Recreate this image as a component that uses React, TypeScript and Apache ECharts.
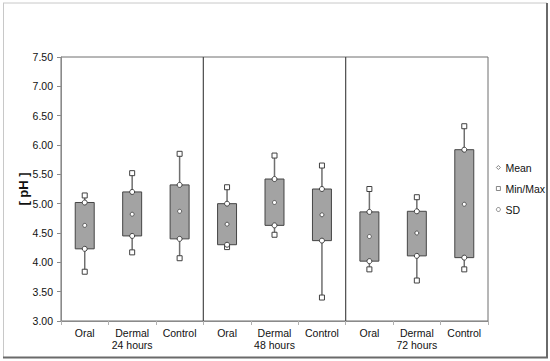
import React, { useEffect, useRef } from "react";
import * as echarts from "echarts";

const categories = [
  "Oral", "Dermal\n24 hours", "Control",
  "Oral", "Dermal\n48 hours", "Control",
  "Oral", "Dermal\n72 hours", "Control",
];
const minValues = [3.84, 4.17, 4.07, 4.26, 4.47, 3.40, 3.88, 3.69, 3.88];
const maxValues = [5.14, 5.52, 5.85, 5.28, 5.82, 5.65, 5.25, 5.11, 6.32];
const sdLow = [4.23, 4.45, 4.40, 4.30, 4.63, 4.37, 4.02, 4.11, 4.08];
const sdHigh = [5.02, 5.20, 5.32, 5.00, 5.42, 5.25, 4.86, 4.87, 5.92];
const meanValues = [4.63, 4.82, 4.87, 4.65, 5.02, 4.81, 4.44, 4.50, 4.99];
const separatorAfter = [2, 5];

const FONT = "Liberation Sans, Arial, sans-serif";

export default function App() {
  const ref = useRef<HTMLDivElement>(null);
  useEffect(() => {
    if (!ref.current) return;
    const chart = echarts.init(ref.current, null, { renderer: "svg" });
    const boxData = categories.map((_, i) => [i, minValues[i], maxValues[i], sdLow[i], sdHigh[i]]);
    const minMaxData: number[][] = [];
    categories.forEach((_, i) => {
      minMaxData.push([i, minValues[i]]);
      minMaxData.push([i, maxValues[i]]);
    });
    const sdData: number[][] = [];
    categories.forEach((_, i) => {
      sdData.push([i, sdLow[i]]);
      sdData.push([i, sdHigh[i]]);
    });
    const meanData = categories.map((_, i) => [i, meanValues[i]]);
    const markerStyle = { color: "#ffffff", borderColor: "#404040", borderWidth: 1, opacity: 1 };

    chart.setOption({
      animation: false,
      textStyle: { fontFamily: FONT },
      graphic: [
        { type: "line", shape: { x1: 3, y1: 3, x2: 547, y2: 3 }, style: { stroke: "#c8c8c8", lineWidth: 1 } },
        { type: "line", shape: { x1: 3.5, y1: 3, x2: 3.5, y2: 357 }, style: { stroke: "#c8c8c8", lineWidth: 1 } },
        { type: "line", shape: { x1: 547, y1: 3, x2: 547, y2: 358 }, style: { stroke: "#6a6a6a", lineWidth: 2 } },
        { type: "line", shape: { x1: 3, y1: 357.5, x2: 548, y2: 357.5 }, style: { stroke: "#6a6a6a", lineWidth: 2 } },
      ],
      grid: {
        left: 61, top: 57, right: 62, bottom: 40,
        show: true, borderColor: "#6e6e6e", borderWidth: 1, backgroundColor: "transparent",
      },
      legend: {
        orient: "vertical",
        left: 491,
        top: 157,
        itemWidth: 4,
        itemHeight: 4,
        itemGap: 10,
        itemStyle: { borderWidth: 0.8, borderColor: "#6a6a6a", color: "#fff" },
        textStyle: { fontSize: 10.5, color: "#111", fontFamily: FONT },
        data: [
          { name: "Mean", icon: "diamond" },
          { name: "Min/Max", icon: "rect" },
          { name: "SD", icon: "circle" },
        ],
      },
      xAxis: {
        type: "category",
        data: categories,
        axisLine: { lineStyle: { color: "#8a8a8a", width: 1 } },
        axisTick: { show: true, length: 4, lineStyle: { color: "#b0b0b0" } },
        axisLabel: { interval: 0, fontSize: 10.5, color: "#111", lineHeight: 12, margin: 6, fontFamily: FONT },
        splitLine: { show: false },
      },
      yAxis: {
        type: "value",
        min: 3,
        max: 7.5,
        interval: 0.5,
        name: "[ pH ]",
        nameLocation: "middle",
        nameGap: 31,
        nameMoveOverlap: false,
        nameTextStyle: { fontSize: 13, fontWeight: "bold", color: "#111", fontFamily: FONT },
        axisLine: { show: true, lineStyle: { color: "#8a8a8a" } },
        axisTick: { show: true, length: 4, lineStyle: { color: "#8a8a8a" } },
        axisLabel: {
          fontSize: 10.5, color: "#111", margin: 8, fontFamily: FONT,
          formatter: (v: number) => v.toFixed(2),
        },
        splitLine: { show: false },
      },
      series: [
        {
          type: "custom",
          name: "box",
          clip: false,
          z: 1,
          data: boxData,
          encode: { x: 0, y: [1, 2, 3, 4] },
          renderItem: (params: any, api: any) => {
            const i = api.value(0);
            const pMin = api.coord([i, api.value(1)]);
            const pMax = api.coord([i, api.value(2)]);
            const pLo = api.coord([i, api.value(3)]);
            const pHi = api.coord([i, api.value(4)]);
            const bw = api.size([1, 0])[0];
            const w = bw * 0.4;
            const children: any[] = [
              {
                type: "line",
                shape: { x1: pMin[0], y1: pMin[1], x2: pMax[0], y2: pMax[1] },
                style: { stroke: "#6f6f6f", lineWidth: 1.5 },
              },
              {
                type: "rect",
                shape: { x: pHi[0] - w / 2, y: pHi[1], width: w, height: pLo[1] - pHi[1] },
                style: { fill: "#a3a3a3", stroke: "#454545", lineWidth: 1 },
              },
            ];
            if (separatorAfter.indexOf(i) >= 0) {
              const top = api.coord([i, 7.5]);
              const bottom = api.coord([i, 3]);
              children.push({
                type: "line",
                shape: { x1: top[0] + bw / 2, y1: top[1], x2: bottom[0] + bw / 2, y2: bottom[1] },
                style: { stroke: "#4a4a4a", lineWidth: 1.2 },
              });
            }
            return { type: "group", children };
          },
        },
        {
          type: "scatter",
          name: "Min/Max",
          symbol: "rect",
          symbolSize: 5,
          z: 3,
          data: minMaxData,
          itemStyle: markerStyle,
        },
        {
          type: "scatter",
          name: "SD",
          symbol: "circle",
          symbolSize: 5,
          z: 3,
          data: sdData,
          itemStyle: markerStyle,
        },
        {
          type: "scatter",
          name: "Mean",
          symbol: "circle",
          symbolSize: 4,
          z: 4,
          data: meanData,
          itemStyle: { ...markerStyle, borderColor: "#555" },
        },
      ],
    });
    return () => chart.dispose();
  }, []);
  return (
    <div
      ref={ref}
      style={{ position: "fixed", left: 0, top: 0, width: 550, height: 361, background: "#fff" }}
    />
  );
}
